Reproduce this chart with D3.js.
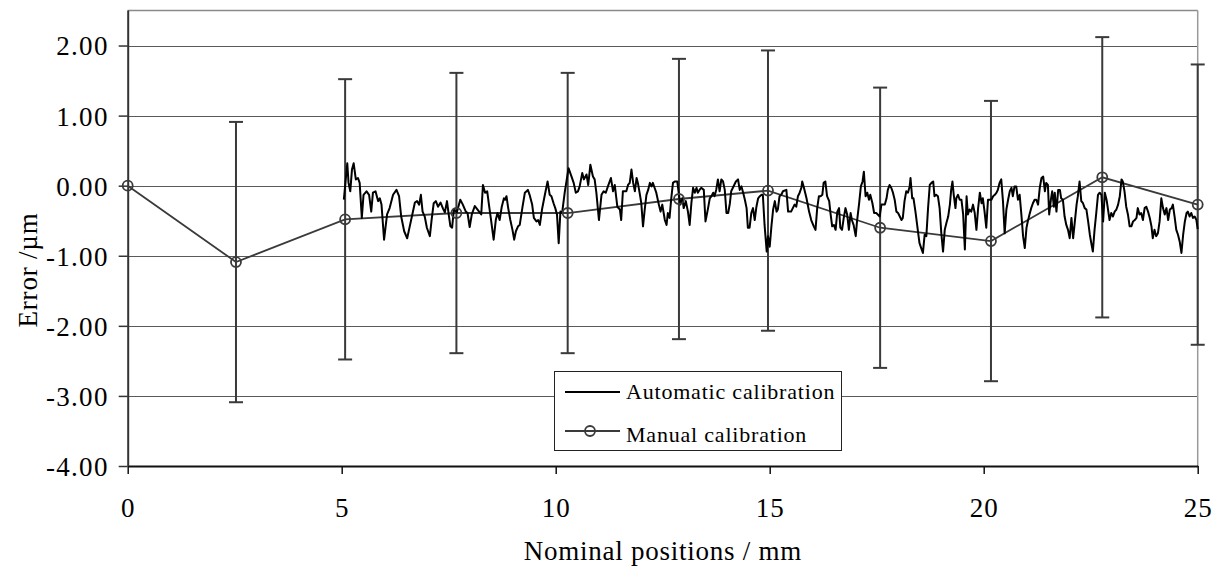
<!DOCTYPE html>
<html><head><meta charset="utf-8">
<script src="https://cdn.jsdelivr.net/npm/d3@7"></script>
<style>body{margin:0;background:#fff}svg{display:block}text{font-family:"Liberation Serif","Times New Roman",serif;fill:#000}</style>
</head><body><svg id="c" width="1226" height="572"></svg>
<script>
// Manual calibration points (mm, µm) with ±error
const manualPos = [0, 2.53, 5.08, 7.68, 10.28, 12.88, 14.96, 17.58, 20.17, 22.77, 25.0];
const manualErr = [0, -1.09, -0.48, -0.39, -0.39, -0.19, -0.07, -0.60, -0.79, 0.12, -0.27];
const manualBar = [null, 2, 2, 2, 2, 2, 2, 2, 2, 2, 2];
// Automatic calibration trace
const autoPos = [5.05,5.13,5.16,5.20,5.24,5.28,5.33,5.38,5.42,5.47,5.51,5.58,5.64,5.69,5.73,5.79,5.85,5.89,5.93,5.99,6.06,6.12,6.20,6.28,6.34,6.39,6.46,6.53,6.59,6.65,6.71,6.76,6.81,6.85,6.89,6.94,6.99,7.06,7.10,7.15,7.20,7.25,7.31,7.37,7.41,7.46,7.50,7.54,7.58,7.62,7.69,7.77,7.83,7.90,7.94,7.99,8.04,8.11,8.16,
8.21,8.26,8.30,8.35,8.40,8.44,8.49,8.55,8.60,8.64,8.69,8.74,8.79,8.82,8.85,8.89,8.94,8.99,9.03,9.07,9.12,9.16,9.22,9.28,9.35,9.39,9.45,9.49,9.55,9.59,9.63,9.68,9.74,9.81,9.86,9.90,9.95,9.99,10.03,10.07,10.11,10.15,10.21,10.30,10.37,10.42,10.47,10.52,10.56,10.62,10.66,10.72,10.76,10.81,10.87,10.91,10.95,11.01,11.07,11.12,11.17,11.22,11.29,11.34,11.38,11.44,
11.50,11.53,11.57,11.65,11.69,11.73,11.77,11.81,11.85,11.89,11.92,11.96,12.00,12.04,12.08,12.12,12.16,12.20,12.24,12.27,12.31,12.35,12.41,12.45,12.49,12.55,12.59,12.62,12.66,12.70,12.74,12.78,12.84,12.87,12.91,12.96,12.99,13.04,13.09,13.13,13.17,13.21,13.25,13.29,13.32,13.36,13.40,13.46,13.50,13.56,13.60,13.64,13.68,13.71,13.75,13.79,13.83,13.87,13.91,13.95,13.99,14.03,14.07,14.10,14.14,14.21,14.26,14.30,14.34,14.38,14.42,14.46,14.49,14.53,14.57,14.61,14.65,14.69,14.73,
14.77,14.81,14.84,14.88,14.93,14.96,15.00,15.04,15.08,15.12,15.16,15.19,15.23,15.27,15.31,15.39,15.43,15.50,15.54,15.58,15.62,15.66,15.70,15.74,15.76,15.80,15.86,15.92,15.97,16.03,16.07,16.11,16.15,16.19,16.23,16.26,16.30,16.34,16.39,16.42,16.46,16.50,16.54,16.58,16.62,16.65,16.69,16.73,16.77,16.81,16.85,16.89,16.92,16.96,17.01,17.04,17.09,17.13,17.17,17.20,17.24,17.28,17.32,17.35,17.40,17.44,17.49,17.57,17.61,17.69,17.73,17.76,17.80,17.84,17.88,17.92,
17.96,18.00,18.04,18.08,18.11,18.15,18.19,18.23,18.27,18.29,18.33,18.36,18.41,18.47,18.50,18.54,18.58,18.62,18.66,18.70,18.74,18.78,18.82,18.85,18.89,18.93,18.97,19.01,19.05,19.09,19.13,19.17,19.21,19.24,19.27,19.30,19.34,19.36,19.40,19.44,19.48,19.52,19.56,19.60,19.63,19.67,19.71,19.75,19.79,19.83,19.87,19.91,19.95,19.98,20.02,20.06,20.10,20.18,20.22,20.26,20.30,20.33,20.37,20.41,20.45,20.49,20.53,20.57,20.61,20.65,20.68,20.72,20.76,20.80,20.84,20.88,20.92,20.96,21.00,21.03,21.07,21.11,21.15,21.19,21.23,
21.27,21.31,21.35,21.39,21.43,21.46,21.50,21.53,21.57,21.60,21.64,21.66,21.70,21.74,21.78,21.81,21.85,21.89,21.93,21.97,22.01,22.05,22.09,22.13,22.17,22.20,22.24,22.28,22.32,22.36,22.40,22.44,22.48,22.52,22.55,22.59,22.63,22.67,22.71,22.75,22.79,22.83,22.87,22.90,22.94,22.98,23.02,23.06,23.10,23.14,23.18,23.22,23.25,23.29,23.33,23.37,23.41,23.45,23.49,23.53,23.57,23.60,23.64,23.68,23.72,23.76,23.80,23.84,23.88,23.92,23.95,23.99,24.03,24.07,24.11,24.15,24.19,24.23,24.27,24.31,24.35,24.39,24.42,24.46,24.50,24.54,24.58,24.62,24.66,24.70,24.74,24.77,24.81,24.85,24.89,24.93,24.97,25.00];
const autoErr = [-0.20,0.32,0.04,-0.08,0.23,0.32,0.09,0.11,0.04,-0.46,-0.13,-0.08,-0.13,-0.37,-0.10,-0.08,-0.22,-0.18,-0.27,-0.77,-0.41,-0.32,-0.13,-0.06,-0.15,-0.44,-0.65,-0.75,-0.58,-0.41,-0.24,-0.22,-0.27,-0.13,-0.37,-0.44,-0.60,-0.72,-0.49,-0.25,-0.22,-0.30,-0.24,-0.33,-0.38,-0.22,-0.41,-0.58,-0.60,-0.34,-0.38,-0.20,-0.27,-0.37,-0.39,-0.59,-0.41,-0.29,-0.33,
-0.37,-0.41,0.01,-0.10,-0.08,-0.27,-0.49,-0.77,-0.49,-0.39,-0.49,-0.30,-0.18,-0.20,-0.15,-0.32,-0.49,-0.63,-0.77,-0.65,-0.58,-0.56,-0.32,-0.10,-0.06,-0.13,-0.27,-0.46,-0.51,-0.49,-0.56,-0.34,-0.15,0.06,-0.13,-0.15,-0.25,-0.32,-0.41,-0.82,-0.37,-0.39,-0.10,0.25,0.13,0.04,-0.10,-0.08,-0.01,0.18,0.09,0.16,0.01,0.30,0.13,0.09,-0.10,-0.49,-0.13,-0.08,-0.10,-0.01,0.11,-0.08,0.01,-0.30,
-0.34,-0.49,-0.08,-0.08,0.01,0.04,0.23,0.04,-0.08,0.11,0.04,-0.10,-0.25,-0.58,-0.34,-0.13,-0.06,0.04,-0.01,0.04,-0.03,-0.10,-0.27,-0.37,-0.27,-0.49,-0.56,-0.39,-0.46,-0.18,0.04,0.06,0.06,-0.08,-0.27,-0.18,-0.32,-0.22,-0.37,-0.56,-0.25,-0.03,-0.10,-0.03,-0.10,-0.06,-0.03,-0.06,-0.51,-0.32,-0.18,-0.15,-0.10,-0.15,-0.06,0.09,-0.08,0.09,0.06,-0.06,-0.39,-0.39,-0.25,-0.08,-0.03,0.06,0.09,-0.06,-0.01,-0.10,-0.20,-0.32,-0.60,-0.60,-0.39,-0.32,-0.49,-0.30,-0.18,
-0.15,-0.13,-0.13,-0.56,-0.94,-0.72,-0.87,-0.58,-0.34,-0.22,-0.37,-0.34,-0.15,-0.13,-0.08,-0.06,-0.37,-0.37,-0.32,-0.27,-0.30,-0.15,-0.10,-0.03,0.06,-0.03,-0.18,-0.37,-0.49,-0.58,-0.63,-0.32,-0.15,-0.15,-0.13,0.04,0.06,-0.15,-0.22,-0.39,-0.58,-0.56,-0.63,-0.37,-0.32,-0.60,-0.63,-0.46,-0.32,-0.41,-0.63,-0.39,-0.49,-0.56,-0.72,-0.51,-0.25,-0.01,0.06,0.20,-0.15,-0.10,-0.20,-0.13,-0.25,-0.39,-0.39,-0.44,-0.27,-0.27,-0.18,-0.06,0.01,-0.03,-0.10,-0.20,
-0.37,-0.39,-0.44,-0.49,-0.46,-0.22,-0.08,-0.10,-0.01,0.11,-0.18,-0.18,-0.39,-0.68,-0.82,-0.89,-0.96,-0.70,-0.72,-0.32,0.01,0.04,0.06,-0.15,-0.13,-0.15,-0.32,-0.68,-0.94,-0.63,-0.53,-0.44,-0.27,-0.06,0.06,-0.13,-0.32,-0.18,-0.13,-0.20,-0.20,-0.41,-0.91,-0.15,-0.41,-0.34,-0.37,-0.27,-0.39,-0.63,-0.32,-0.10,-0.25,-0.18,-0.37,-0.60,-0.20,-0.20,-0.15,-0.13,-0.10,-0.06,0.04,0.09,-0.22,-0.68,-0.34,-0.20,-0.08,-0.03,-0.15,-0.01,-0.01,-0.20,-0.13,-0.41,-0.72,-0.89,-0.60,-0.51,-0.41,-0.32,-0.25,-0.20,-0.20,
-0.27,-0.03,0.11,0.13,-0.08,0.04,0.01,-0.41,-0.20,-0.08,-0.30,-0.10,-0.37,-0.06,-0.06,-0.18,-0.20,-0.44,-0.56,-0.63,-0.75,-0.46,-0.75,-0.51,-0.27,-0.15,0.06,-0.22,-0.25,-0.32,-0.34,-0.51,-0.70,-0.84,-0.94,-0.63,-0.39,-0.13,-0.10,-0.13,-0.51,-0.10,-0.20,-0.32,-0.49,-0.39,-0.44,-0.37,-0.34,-0.27,-0.15,0.09,0.06,-0.08,-0.30,-0.41,-0.58,-0.58,-0.51,-0.49,-0.46,-0.32,-0.41,-0.39,-0.49,-0.32,-0.30,-0.37,-0.46,-0.58,-0.75,-0.63,-0.72,-0.68,-0.51,-0.18,-0.32,-0.41,-0.32,-0.49,-0.34,-0.32,-0.27,-0.44,-0.63,-0.70,-0.80,-0.96,-0.70,-0.51,-0.39,-0.37,-0.44,-0.39,-0.46,-0.44,-0.49,-0.62];
const xTicks = [0, 5, 10, 15, 20, 25];
const yTicks = [-4, -3, -2, -1, 0, 1, 2];
const gridVals = [-3, -2, -1, 0, 1, 2];
const legendLabels = ["Automatic calibration", "Manual calibration"];

const svg = d3.select("#c");
const x = d3.scaleLinear().domain([0, 25]).range([127.7, 1197.7]);
const y = d3.scaleLinear().domain([-4, 2.5]).range([466, 10.5]);
const L = 127.7, R = 1197.7, T = 10.5, B = 466;

// gridlines
svg.append("g").selectAll("line").data(gridVals).join("line")
  .attr("x1", L).attr("x2", R)
  .attr("y1", d => Math.round(y(d)) + 0.5).attr("y2", d => Math.round(y(d)) + 0.5)
  .attr("stroke", "#5a5a5a").attr("stroke-width", 1);
// frame top/right
svg.append("line").attr("x1", L).attr("x2", R).attr("y1", T).attr("y2", T).attr("stroke", "#8a8a8a").attr("stroke-width", 1.5);
svg.append("line").attr("x1", R).attr("x2", R).attr("y1", T).attr("y2", B).attr("stroke", "#9a9a9a").attr("stroke-width", 1.5);

// axes
const xAxis = svg.append("g").attr("transform", `translate(0,${B})`)
  .call(d3.axisBottom(x).tickValues(xTicks).tickFormat(d3.format("d")).tickSize(8).tickSizeOuter(0));
xAxis.select(".domain").attr("stroke", "#111").attr("stroke-width", 2);
xAxis.selectAll(".tick line").attr("stroke", "#111").attr("stroke-width", 1.5);
xAxis.selectAll("text").attr("y", 51).attr("dy", 0).style("font-size", "27px").style("letter-spacing", "1px").attr("fill", "#000");

const yAxis = svg.append("g").attr("transform", `translate(${L},0)`)
  .call(d3.axisLeft(y).tickValues(yTicks).tickFormat(d => d.toFixed(2)).tickSize(9).tickSizeOuter(0));
yAxis.select(".domain").attr("stroke", "#333").attr("stroke-width", 2).attr("d", `M0.5,${T}V${B}`);
yAxis.selectAll(".tick line").attr("stroke", "#333").attr("stroke-width", 1.5);
yAxis.selectAll("text").attr("x", -19).attr("dy", "0.35em").style("font-size", "27px").style("letter-spacing", "1.3px").attr("fill", "#000");

// titles
svg.append("text").attr("x", 663).attr("y", 560).attr("text-anchor", "middle").style("font-size", "27px").style("letter-spacing", "0.75px").text("Nominal positions / mm");
svg.append("text").attr("transform", "translate(37,270) rotate(-90)").attr("text-anchor", "middle").style("font-size", "27px").style("letter-spacing", "0.8px").text("Error /µm");

// error bars
const manual = manualPos.map((p, i) => ({p, v: manualErr[i], e: manualBar[i]}));
const eb = svg.append("g").attr("stroke", "#3a3a3a").attr("stroke-width", 2);
manual.filter(d => d.e !== null).forEach(d => {
  const cx = x(d.p);
  eb.append("line").attr("x1", cx).attr("x2", cx).attr("y1", y(d.v + d.e)).attr("y2", y(d.v - d.e));
  eb.append("line").attr("x1", cx - 7).attr("x2", cx + 7).attr("y1", y(d.v + d.e)).attr("y2", y(d.v + d.e));
  eb.append("line").attr("x1", cx - 7).attr("x2", cx + 7).attr("y1", y(d.v - d.e)).attr("y2", y(d.v - d.e));
});

// manual line
svg.append("path").datum(manual)
  .attr("d", d3.line().x(d => x(d.p)).y(d => y(d.v)))
  .attr("fill", "none").attr("stroke", "#3a3a3a").attr("stroke-width", 1.8);

// auto line
const auto = autoPos.map((p, i) => ({p, v: autoErr[i]}));
svg.append("path").datum(auto)
  .attr("d", d3.line().x(d => x(d.p)).y(d => y(d.v)))
  .attr("fill", "none").attr("stroke", "#000").attr("stroke-width", 2).attr("stroke-linejoin", "round");

// manual markers
svg.append("g").selectAll("circle").data(manual).join("circle")
  .attr("cx", d => x(d.p)).attr("cy", d => y(d.v)).attr("r", 5)
  .attr("fill", "none").attr("stroke", "#3a3a3a").attr("stroke-width", 1.8);

// legend
const lg = svg.append("g");
lg.append("rect").attr("x", 554.5).attr("y", 371.5).attr("width", 287).attr("height", 79)
  .attr("fill", "#fff").attr("stroke", "#222").attr("stroke-width", 1);
lg.append("line").attr("x1", 565).attr("x2", 620).attr("y1", 392).attr("y2", 392).attr("stroke", "#000").attr("stroke-width", 2);
lg.append("line").attr("x1", 565).attr("x2", 620).attr("y1", 431).attr("y2", 431).attr("stroke", "#3a3a3a").attr("stroke-width", 1.8);
lg.append("circle").attr("cx", 590).attr("cy", 431).attr("r", 5).attr("fill", "none").attr("stroke", "#3a3a3a").attr("stroke-width", 1.8);
lg.selectAll("text.lt").data(legendLabels).join("text").attr("class", "lt")
  .attr("x", 626).attr("y", (d, i) => i === 0 ? 399 : 442).style("font-size", "22px").style("letter-spacing", "0.8px").text(d => d);
</script></body></html>
